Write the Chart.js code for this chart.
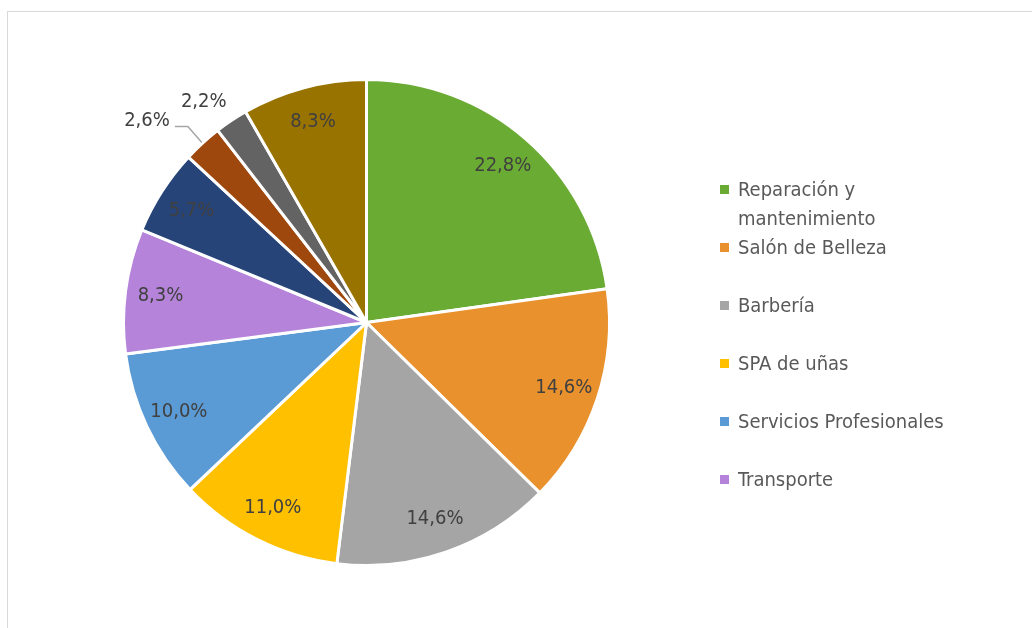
<!DOCTYPE html>
<html>
<head>
<meta charset="utf-8">
<script src="https://cdn.jsdelivr.net/npm/chart.js@4"></script>
<style>
  body { margin: 0; background: #fff; }
  #wrap { position: relative; width: 1032px; height: 628px; overflow: hidden; }
  #frame { position: absolute; left: 7px; top: 11px; width: 1200px; height: 800px; border: 1px solid #d9d9d9; }
  #grafico { position: absolute; left: 0; top: 0; }
  #leyenda { position: absolute; left: 720px; top: 175px; font-family: 'Liberation Sans Narrow', 'DejaVu Sans Condensed', Roboto, sans-serif; font-size: 20px; color: #595959; }
  .item { position: absolute; left: 0; width: 300px; line-height: 29px; }
  .item span.box { position: absolute; left: 0; top: 10px; width: 9px; height: 9px; }
  .item span.txt { position: absolute; left: 18px; top: 0; white-space: nowrap; }
</style>
</head>
<body>
<div id="wrap">
  <div id="frame"></div>
  <canvas id="grafico" width="1032" height="628"></canvas>
  <div id="leyenda"></div>
</div>
<script>
var categorias = ['Reparación y mantenimiento', 'Salón de Belleza', 'Barbería', 'SPA de uñas',
    'Servicios Profesionales', 'Transporte', 'Otro 1', 'Otro 2', 'Otro 3', 'Otro 4'];
var leyendaLineas = [['Reparación y', 'mantenimiento'], ['Salón de Belleza'], ['Barbería'], ['SPA de uñas'],
    ['Servicios Profesionales'], ['Transporte']];
var valores = [22.8, 14.6, 14.6, 11.0, 10.0, 8.3, 5.7, 2.6, 2.2, 8.3];
var colores = ['#6aab33', '#e8912d', '#a5a5a5', '#ffc000', '#5b9bd5', '#b584da', '#264478', '#9e480e', '#636363', '#997300'];

var fuente = "'Liberation Sans Narrow', 'DejaVu Sans Condensed', Roboto, sans-serif";

// etiquetas de porcentaje dibujadas sobre cada sector
var etiquetas = {
    id: 'etiquetas',
    afterDatasetsDraw: function (chart) {
        var ctx = chart.ctx;
        var arcos = chart.getDatasetMeta(0).data;
        ctx.save();
        ctx.font = '20px ' + fuente;
        ctx.fillStyle = '#404040';
        ctx.textBaseline = 'middle';
        arcos.forEach(function (arc, i) {
            var texto = valores[i].toFixed(1).replace('.', ',') + '%';
            var med = (arc.startAngle + arc.endAngle) / 2;
            var R = arc.outerRadius;
            if (valores[i] >= 3) {
                ctx.textAlign = 'center';
                ctx.fillText(texto, arc.x + Math.cos(med) * R * 0.855, arc.y + Math.sin(med) * R * 0.855);
                return;
            }
            // sectores pequeños: etiqueta por fuera
            var ex = arc.x + Math.cos(med) * (R + 1);
            var ey = arc.y + Math.sin(med) * (R + 1);
            var siguientePequeno = i + 1 < valores.length && valores[i + 1] < 3;
            if (siguientePequeno) {
                var cx = ex - 14, cy = ey - 16;
                ctx.strokeStyle = '#a6a6a6';
                ctx.lineWidth = 1.5;
                ctx.beginPath();
                ctx.moveTo(ex, ey);
                ctx.lineTo(cx, cy);
                ctx.lineTo(cx - 13, cy);
                ctx.stroke();
                ctx.textAlign = 'right';
                ctx.fillText(texto, cx - 18, cy - 6);
            } else {
                ctx.textAlign = 'center';
                ctx.fillText(texto, ex - 27, ey - 18);
            }
        });
        ctx.restore();
    }
};

var ctx = document.getElementById('grafico').getContext('2d');
var chart = new Chart(ctx, {
    type: 'pie',
    data: {
        labels: categorias,
        datasets: [{
            data: valores,
            backgroundColor: colores,
            borderColor: '#ffffff',
            borderWidth: 3
        }]
    },
    options: {
        responsive: false,
        devicePixelRatio: 1,
        animation: false,
        layout: { padding: { left: 122, right: 421, top: 78, bottom: 61 } },
        plugins: {
            legend: { display: false },
            tooltip: { enabled: false }
        }
    },
    plugins: [etiquetas]
});

// leyenda (solo las seis primeras categorías, como en el original)
var leyenda = document.getElementById('leyenda');
leyendaLineas.forEach(function (lineas, i) {
    var item = document.createElement('div');
    item.className = 'item';
    item.style.top = (i * 58) + 'px';
    item.innerHTML = '<span class="box" style="background:' + colores[i] + '"></span>' +
        '<span class="txt">' + lineas.join('<br>') + '</span>';
    leyenda.appendChild(item);
});
</script>
</body>
</html>
